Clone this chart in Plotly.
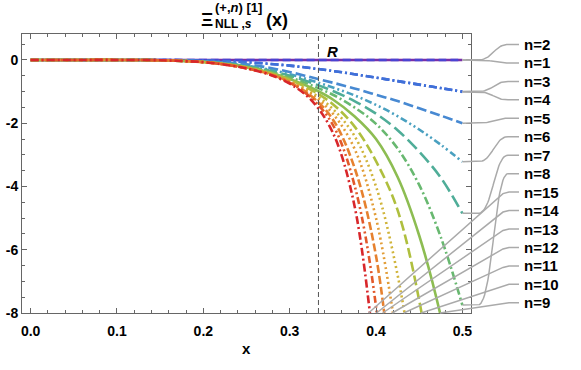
import numpy as np
import plotly.graph_objects as go

# ----------------------------------------------------------------- data
X = [0.0, 0.05, 0.1, 0.15, 0.2, 0.225, 0.25, 0.275, 0.3, 0.325, 0.35,
     0.375, 0.4, 0.425, 0.45, 0.475, 0.5]

N1 = [0, 0, 0, 0, 0, 0, 0, 0, 0, 0, 0, 0, 0, 0, 0, 0, 0]
N2 = [0, 0, 0, 0, 0, 0, 0, 0, 0, 0, 0, 0, 0, 0, 0, 0, 0]
N3 = [0, 0, 0, 0, -0.02, -0.04, -0.07, -0.12, -0.18, -0.26, -0.35, -0.45, -0.56, -0.67, -0.78, -0.89, -1.0]
N4 = [0, 0, 0, 0, -0.02, -0.04, -0.07, -0.12, -0.18, -0.26, -0.35, -0.45, -0.56, -0.67, -0.78, -0.89, -1.01]
N5 = [0, 0, 0, -0.01, -0.04, -0.08, -0.14, -0.24, -0.38, -0.55, -0.72, -0.9, -1.1, -1.3, -1.53, -1.76, -2.0]
N6 = [0, 0, 0, -0.01, -0.05, -0.1, -0.18, -0.3, -0.45, -0.65, -0.87, -1.12, -1.42, -1.78, -2.2, -2.68, -3.22]
N7 = [0, 0, 0, -0.01, -0.06, -0.11, -0.2, -0.33, -0.5, -0.72, -0.98, -1.3, -1.7, -2.22, -2.9, -3.72, -4.85]
N8 = [0, 0, 0, -0.01, -0.06, -0.12, -0.22, -0.36, -0.55, -0.8, -1.1, -1.5, -2.02, -2.8, -3.95, -5.6, -7.75]
N9 = [0, 0, 0, -0.01, -0.065, -0.13, -0.23, -0.38, -0.6, -0.88, -1.25, -1.78, -2.5, -3.7, -5.55, -8.1, -11.5]
N10 = [0, 0, 0, -0.01, -0.065, -0.13, -0.24, -0.4, -0.63, -0.95, -1.4, -2.1, -3.2, -4.75, -7.6, -12.0, None]
N11 = [0, 0, 0, -0.01, -0.07, -0.14, -0.25, -0.41, -0.66, -1.02, -1.55, -2.4, -4.0, -6.8, -11.0, None, None]
N12 = [0, 0, 0, -0.01, -0.07, -0.14, -0.25, -0.42, -0.68, -1.08, -1.7, -2.8, -5.0, -9.0, None, None, None]
N13 = [0, 0, 0, -0.01, -0.07, -0.14, -0.26, -0.43, -0.7, -1.14, -1.88, -3.4, -6.2, -12.0, None, None, None]
N14 = [0, 0, 0, -0.01, -0.07, -0.15, -0.26, -0.44, -0.72, -1.2, -2.05, -3.95, -7.8, -16.0, None, None, None]
N15 = [0, 0, 0, -0.01, -0.07, -0.15, -0.27, -0.45, -0.75, -1.27, -2.3, -4.6, -9.8, None, None, None, None]

R_VALUE = 1 / 3
X_TICKS = [0.0, 0.1, 0.2, 0.3, 0.4, 0.5]
X_TICK_LABELS = ["0.0", "0.1", "0.2", "0.3", "0.4", "0.5"]
Y_TICKS = [0, -2, -4, -6, -8]
Y_TICK_LABELS = ["0", "-2", "-4", "-6", "-8"]
LABEL_ORDER = [2, 1, 3, 4, 5, 6, 7, 8, 15, 14, 13, 12, 11, 10, 9]

SERIES = {1: N1, 2: N2, 3: N3, 4: N4, 5: N5, 6: N6, 7: N7, 8: N8,
          9: N9, 10: N10, 11: N11, 12: N12, 13: N13, 14: N14, 15: N15}

# ---------------------------------------------------------------- style
COLORS = {1: "#7a2fa8", 2: "#4a43d2", 3: "#3d5fda", 4: "#3f70d8", 5: "#4789d2",
          6: "#49a0c0", 7: "#4fad98", 8: "#68b870", 9: "#8dbd52", 10: "#afbf3e",
          11: "#d0b43a", 12: "#e29d37", 13: "#e6812f", 14: "#e2582a", 15: "#d8262a"}
DD = "8px,3px,2px,3px"
DDD = "7px,3px,2px,3px,2px,3px"
DASHES = {1: "solid", 2: "8px,4px", 3: DD, 4: DD, 5: "10px,4px", 6: DDD,
          7: "13px,5px", 8: DD, 9: "solid", 10: "10px,4px", 11: "2px,3px",
          12: "2px,3px", 13: "8px,3px", 14: DDD, 15: DD}

W, H = 581, 370
PL, PR, PT, PB = 22, 471, 34, 313          # plot frame in pixels
XR = [-0.01, 0.51]
YR = [-8.0, 0.82]
SX = (PR - PL) / (XR[1] - XR[0])
SY = (PB - PT) / (YR[1] - YR[0])
X2R = [XR[0] - PL / SX, XR[0] + (W - PL) / SX]
Y2R = [YR[0] - (H - PB) / SY, YR[1] + PT / SY]
FRAME = "#666666"
FONT = "Liberation Sans"


def px_x(p):
    return XR[0] + (p - PL) / SX


def px_y(p):
    return YR[1] - (p - PT) / SY


fig = go.Figure()

for n in range(1, 16):
    fig.add_trace(go.Scatter(
        x=X, y=SERIES[n], mode="lines", name="n=%d" % n,
        line=dict(color=COLORS[n], width=2.6, dash=DASHES[n], shape="spline"),
        xaxis="x", yaxis="y", hoverinfo="skip"))

fig.add_vline(x=R_VALUE, line=dict(color="#555555", width=1, dash="5px,3px"))

# callout lines and labels on an invisible full-figure axis pair
slot0, step = 44.5, 18.45
for i, n in enumerate(LABEL_ORDER):
    ys = np.array([np.nan if v is None else v for v in SERIES[n]], float)
    ly = slot0 + i * step
    if ys[-1] >= YR[0]:
        ax, ay = X[-1], ys[-1]
        ay_px = PT + (YR[1] - ay) * SY
        t = np.linspace(0, 1, 30)
        p0, p3 = np.array([478, ay_px]), np.array([508, ly])
        p1, p2 = np.array([493, ay_px]), np.array([494, ly])
        bez = ((1 - t) ** 3)[:, None] * p0 + (3 * (1 - t) ** 2 * t)[:, None] * p1 \
            + (3 * (1 - t) * t ** 2)[:, None] * p2 + (t ** 3)[:, None] * p3
        cx = [ax] + [px_x(p) for p in bez[:, 0]] + [px_x(519)]
        cy = [ay] + [px_y(p) for p in bez[:, 1]] + [px_y(ly)]
    else:
        ok = ~np.isnan(ys)
        xs, yv = np.array(X)[ok], ys[ok]
        k = np.argmax(yv < YR[0])
        xc = xs[k - 1] + (YR[0] - yv[k - 1]) * (xs[k] - xs[k - 1]) / (yv[k] - yv[k - 1])
        cx = [xc, px_x(503), px_x(509), px_x(519)]
        cy = [YR[0], px_y(ly + 1.5), px_y(ly), px_y(ly)]
    fig.add_trace(go.Scatter(x=cx, y=cy, mode="lines", xaxis="x2", yaxis="y2",
                             line=dict(color="#aaaaaa", width=1.5), hoverinfo="skip"))
    fig.add_annotation(x=px_x(522), y=px_y(ly), xref="x2", yref="y2",
                       text="<b>n=%d</b>" % n, showarrow=False, xanchor="left",
                       yanchor="middle", font=dict(family=FONT, size=15, color="black"))

# title pieces
def title_piece(text, x, y, size, anchor="left"):
    fig.add_annotation(x=x / W, y=1 - y / H, xref="paper", yref="paper", text=text,
                       showarrow=False, xanchor=anchor, yanchor="middle",
                       font=dict(family=FONT, size=size, color="black"))


title_piece("<b>Ξ</b>", 207, 19, 19, "center")
title_piece("<b>(+,<i>n</i>) [1]</b>", 213, 7, 13)
title_piece("<b>NLL ,<i>s</i></b>", 213, 24, 12)
title_piece("<b>(x)</b>", 264, 20, 18)
title_piece("<b>x</b>", (PL + PR) / 2, 348, 15, "center")

fig.add_annotation(x=0.35, y=0.27, xref="x", yref="y", text="<b><i>R</i></b>",
                   showarrow=False, font=dict(family=FONT, size=15, color="black"))

axis_common = dict(showline=True, linecolor=FRAME, linewidth=1, mirror="ticks",
                   ticks="inside", ticklen=5, tickwidth=1, tickcolor=FRAME,
                   showgrid=False, zeroline=False, automargin=False,
                   tickfont=dict(family=FONT, size=14, color="black", weight="bold"))

fig.update_layout(
    template="none", width=W, height=H, showlegend=False,
    margin=dict(l=0, r=0, t=0, b=0),
    paper_bgcolor="white", plot_bgcolor="rgba(0,0,0,0)",
    xaxis=dict(domain=[PL / W, PR / W], range=XR, tickvals=X_TICKS,
               ticktext=X_TICK_LABELS, ticklabelstandoff=5,
               minor=dict(ticks="inside", ticklen=3, tickcolor=FRAME, dtick=0.02, tick0=0),
               **axis_common),
    yaxis=dict(domain=[1 - PB / H, 1 - PT / H], range=YR, tickvals=Y_TICKS,
               ticktext=Y_TICK_LABELS, ticklabelstandoff=0,
               minor=dict(ticks="inside", ticklen=3, tickcolor=FRAME, dtick=0.5, tick0=0),
               **axis_common),
    xaxis2=dict(domain=[0, 1], range=X2R, visible=False, anchor="y2"),
    yaxis2=dict(domain=[0, 1], range=Y2R, visible=False, anchor="x2"),
)

fig.write_html("out.html", config={"displayModeBar": False},
               post_script="document.body.style.margin='0';")
